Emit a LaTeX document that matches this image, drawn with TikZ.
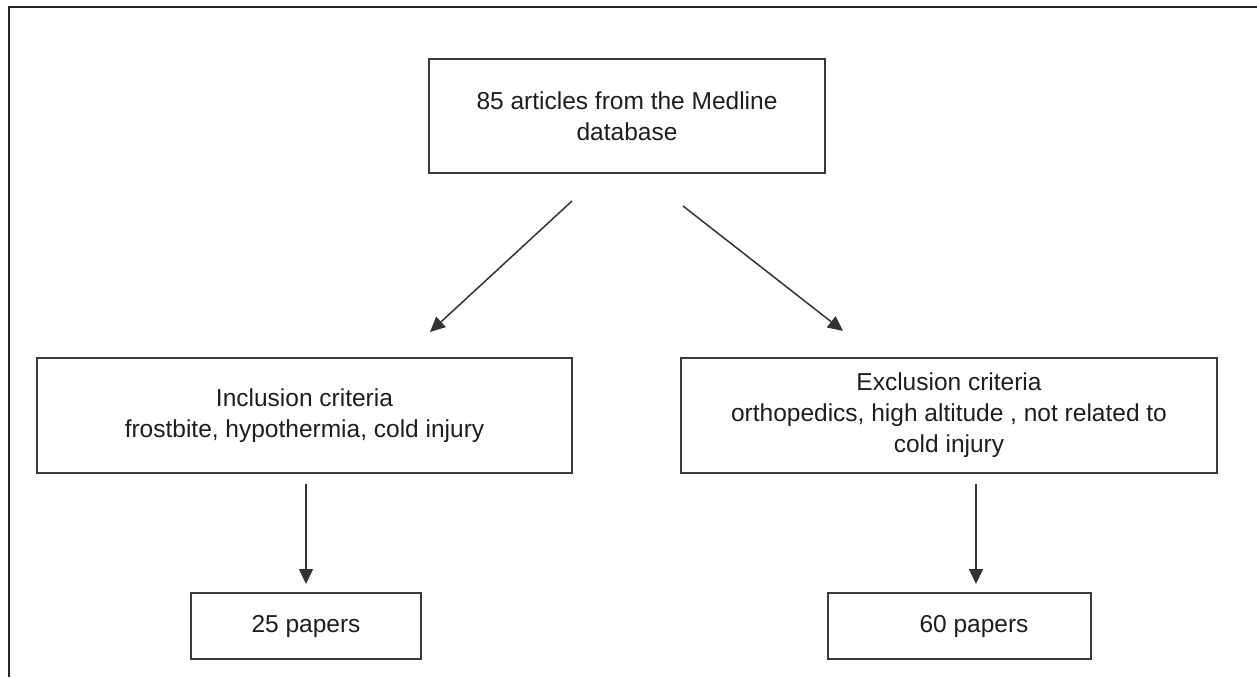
\documentclass[tikz,border=0pt]{standalone}
\usepackage{fontspec}
\setmainfont{Liberation Sans}
\usetikzlibrary{arrows.meta}
\definecolor{boxline}{HTML}{3A3A3A}
\definecolor{txt}{HTML}{1E1E1E}
\tikzset{
  flowbox/.style={draw=boxline, line width=1.8pt, rectangle, inner sep=0pt, align=center,
    text=txt, font=\fontsize{24.5}{31}\selectfont},
  flowarrow/.style={draw=black!80, line width=1.5pt, -{Triangle[length=15pt,width=14pt]}},
  frameline/.style={draw=black!85, line width=2.4pt}
}
\begin{document}
\begin{tikzpicture}[x=1pt,y=-1pt]
\useasboundingbox (0,0) rectangle (1257,677);
% outer frame (top and left only)
\draw[frameline] (9,677) -- (9,7) -- (1257,7);

\node[flowbox, minimum width=396pt, minimum height=114pt] (src) at (627,116)
  {85 articles from the Medline\\database};
\node[flowbox, minimum width=535pt, minimum height=115pt] (inc) at (304.5,415.5)
  {Inclusion criteria\\frostbite, hypothermia, cold injury};
\node[flowbox, minimum width=536pt, minimum height=115pt] (exc) at (949,415.5)
  {Exclusion criteria\\orthopedics, high altitude , not related to\\cold injury};
\node[flowbox, minimum width=230pt, minimum height=66pt] (p25) at (306,626) {25 papers};
\node[flowbox, minimum width=263pt, minimum height=66pt] (p60) at (959.5,626) {};
\node[text=txt, font=\fontsize{24.5}{31}\selectfont, inner sep=0pt] (p60t) at (974,626) {60 papers};

% free ends of the connectors
\coordinate (a1s) at (572,201);
\coordinate (a1e) at (430,332);
\coordinate (a2s) at (683,206);
\coordinate (a2e) at (843,331);
\coordinate (a3s) at (306,484);
\coordinate (a3e) at (306,584);
\coordinate (a4s) at (976,484);
\coordinate (a4e) at (976,584);

\draw[flowarrow] (a1s) -- (a1e);
\draw[flowarrow] (a2s) -- (a2e);
\draw[flowarrow] (a3s) -- (a3e);
\draw[flowarrow] (a4s) -- (a4e);
\end{tikzpicture}
\end{document}
